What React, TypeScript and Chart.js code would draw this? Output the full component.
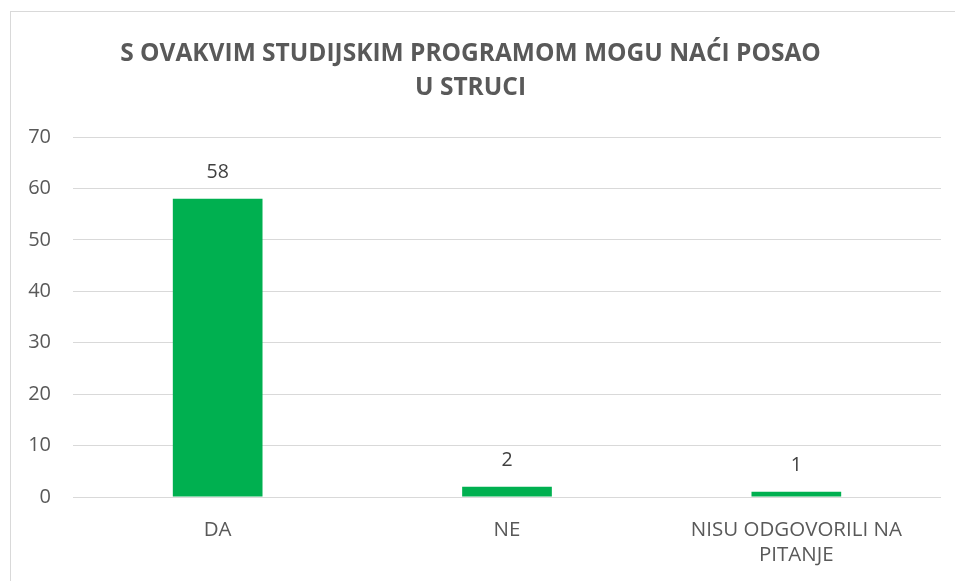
import React, { useEffect, useRef } from "react";
import { Chart, registerables } from "chart.js";

Chart.register(...registerables);

const titleLines = ["S OVAKVIM STUDIJSKIM PROGRAMOM MOGU NAĆI POSAO", "U STRUCI"];
const categories: (string | string[])[] = ["DA", "NE", ["NISU ODGOVORILI NA", "PITANJE"]];
const values = [58, 2, 1];
const yMin = 0;
const yMax = 70;
const yStep = 10;

const FONT = "'Open Sans'";
const TEXT = "#595959";

const valueLabels = {
  id: "valueLabels",
  afterDatasetsDraw(chart: any) {
    const ctx = chart.ctx;
    const meta = chart.getDatasetMeta(0);
    ctx.save();
    ctx.fillStyle = "#404040";
    ctx.font = `19.5px ${FONT}`;
    ctx.textAlign = "center";
    ctx.textBaseline = "middle";
    meta.data.forEach((bar: any, i: number) => {
      ctx.fillText(String(chart.data.datasets[0].data[i]), bar.x, bar.y - 26);
    });
    ctx.restore();
  },
};

export default function App() {
  const ref = useRef<HTMLCanvasElement>(null);
  useEffect(() => {
    document.body.style.margin = "0";
    const chart = new Chart(ref.current!, {
      type: "bar",
      data: {
        labels: categories,
        datasets: [
          {
            data: values,
            backgroundColor: "#00B050",
            barPercentage: 0.31,
            categoryPercentage: 1,
          },
        ],
      },
      options: {
        animation: false,
        responsive: false,
        layout: { padding: { left: 0, right: 14, top: 0, bottom: 0 } },
        plugins: {
          legend: { display: false },
          tooltip: { enabled: false },
          title: {
            display: true,
            text: titleLines,
            color: TEXT,
            font: { family: FONT, size: 24.5, weight: "bold", lineHeight: 1.39 },
            padding: { top: 37, bottom: 32 },
          },
        },
        scales: {
          x: {
            grid: { display: false, drawTicks: false },
            border: { display: false },
            ticks: { color: TEXT, font: { family: FONT, size: 20.5, lineHeight: 1.25 }, padding: 20, maxRotation: 0 },
            afterFit: (s: any) => { s.height = 84; },
          },
          y: {
            min: yMin,
            max: yMax,
            grid: { color: "#D9D9D9", lineWidth: 1, drawTicks: false },
            border: { display: false },
            ticks: { stepSize: yStep, color: TEXT, font: { family: FONT, size: 20 }, padding: 22 },
            afterFit: (s: any) => { s.width = 73; },
          },
        },
      },
      plugins: [valueLabels],
    });
    return () => chart.destroy();
  }, []);
  return (
    <div style={{ position: "relative", width: 955, height: 581, overflow: "hidden", background: "#fff" }}>
      <div style={{ position: "absolute", left: 10, top: 11, width: 980, height: 620, border: "1px solid #D9D9D9" }} />
      <canvas ref={ref} width={955} height={581} style={{ position: "absolute", left: 0, top: 0 }} />
    </div>
  );
}
